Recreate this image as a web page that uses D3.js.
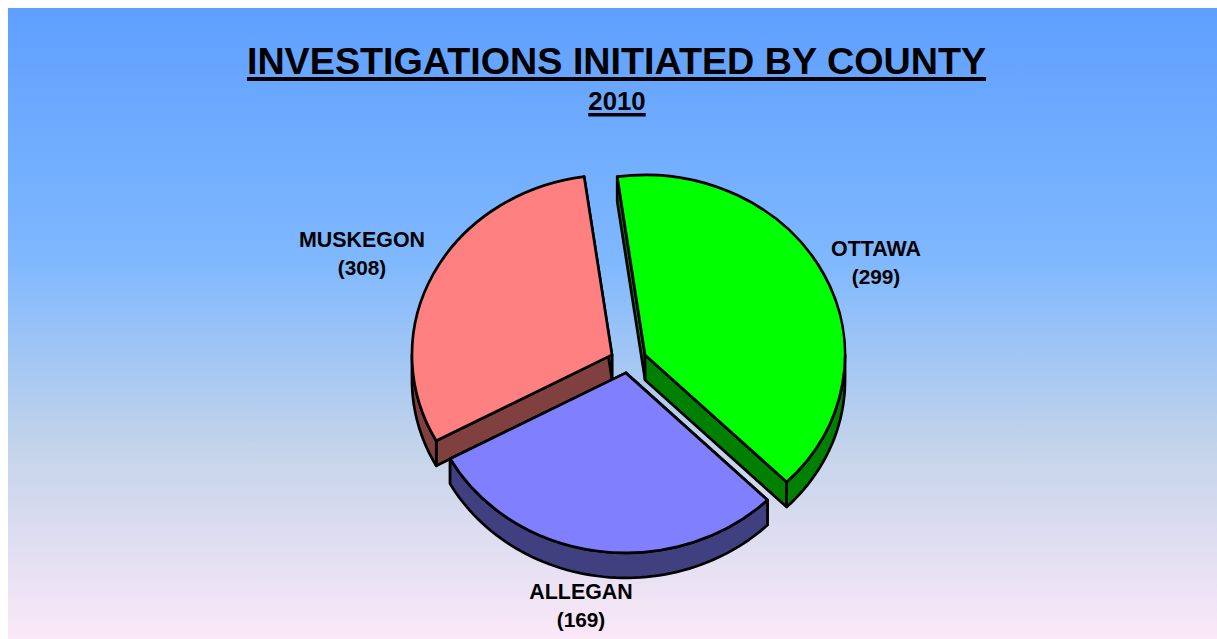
<!DOCTYPE html>
<html>
<head>
<meta charset="utf-8">
<script src="https://cdn.jsdelivr.net/npm/d3@7"></script>
<style>
html,body{margin:0;padding:0;background:#fff;}
svg{display:block;}
text{font-family:"Liberation Sans",Arial,sans-serif;font-weight:bold;fill:#000;}
</style>
</head>
<body>
<div id="chart"></div>
<script>
const counties = ['OTTAWA','ALLEGAN','MUSKEGON'];
const counts = [299,169,308];
// the printed counts don't match the wedge sizes in the picture, so the wedges use their own shares (percent)
const wedgeShares = [39.7,29.6,30.7];
const topColors = ['#00ff00','#8080ff','#ff8080'];
const sideColors = ['#008000','#404080','#804040'];

const width = 1217, height = 639;
const rx = 200, ry = 180, depth = 25;
const cx = 628.5, cy = 360.5;
const explodeX = 18.5, explodeY = 12.5;
const startDeg = -8;

const svg = d3.select('#chart').append('svg')
    .attr('width',width)
    .attr('height',height);

const grad = svg.append('defs').append('linearGradient')
    .attr('id','bg')
    .attr('x1',0).attr('y1',0).attr('x2',0).attr('y2',1);
grad.append('stop').attr('offset','0%').attr('stop-color','#5f9fff');
grad.append('stop').attr('offset','40%').attr('stop-color','#7fb8ff');
grad.append('stop').attr('offset','70%').attr('stop-color','#c4d4ea');
grad.append('stop').attr('offset','100%').attr('stop-color','#fbe8f8');

svg.append('rect')
    .attr('x',8).attr('y',8)
    .attr('width',width-8).attr('height',height-8)
    .attr('fill','url(#bg)');

const slices = counties.map((c,i)=>({county:c,count:counts[i],share:wedgeShares[i],top:topColors[i],side:sideColors[i]}));
const pie = d3.pie()
    .sort(null)
    .value(d=>d.share)
    .startAngle(startDeg*Math.PI/180)
    .endAngle((startDeg+360)*Math.PI/180);
const arcs = pie(slices);

// d3.arc angles: 0 is straight up, going clockwise
const px = (a)=>rx*Math.sin(a);
const py = (a)=>-ry*Math.cos(a);
const arcShape = d3.arc().innerRadius(0).outerRadius(rx);
const scaleY = ry/rx;

const lineWidth = 2.7;
const wedge = svg.append('g').attr('stroke','#000').attr('stroke-linejoin','round');

// back to front
for(const i of [0,2,1]){
    const d = arcs[i];
    const mid = (d.startAngle+d.endAngle)/2;
    const x0 = cx+explodeX*Math.sin(mid);
    const y0 = cy-explodeY*Math.cos(mid);
    const g = wedge.append('g').attr('transform',`translate(${x0},${y0})`);

    // the two cut faces
    for(const a of [d.startAngle,d.endAngle]){
        g.append('path')
            .attr('d',`M0,0L${px(a)},${py(a)}L${px(a)},${py(a)+depth}L0,${depth}Z`)
            .attr('fill',d.data.side)
            .attr('stroke-width',lineWidth);
    }

    // rim, only the part facing us (90deg to 270deg)
    const a0 = Math.max(d.startAngle,Math.PI/2);
    const a1 = Math.min(d.endAngle,Math.PI*1.5);
    if(a1>a0){
        const n = 60;
        const steps = d3.range(n+1).map(k=>a0+(a1-a0)*k/n);
        const front = steps.map(a=>[px(a),py(a)]);
        const back = steps.slice().reverse().map(a=>[px(a),py(a)+depth]);
        g.append('path')
            .attr('d',d3.line()(front.concat(back))+'Z')
            .attr('fill',d.data.side)
            .attr('stroke-width',lineWidth);
    }

    // top face
    g.append('path')
        .attr('d',arcShape(d))
        .attr('transform',`scale(1,${scaleY})`)
        .attr('vector-effect','non-scaling-stroke')
        .attr('fill',d.data.top)
        .attr('stroke-width',lineWidth);
}

// titles, underline drawn by hand because the browser's one is too thin
function underlined(str,x,y,size,gap,thick){
    const t = svg.append('text')
        .attr('x',x).attr('y',y)
        .attr('text-anchor','middle')
        .attr('font-size',size)
        .text(str);
    const w = t.node().getComputedTextLength();
    svg.append('rect')
        .attr('x',x-w/2).attr('y',y+gap)
        .attr('width',w).attr('height',thick)
        .attr('fill','#000');
}
underlined('INVESTIGATIONS INITIATED BY COUNTY',616.5,74,37.7,3,4);
underlined('2010',617,110,25.8,3,3.5);

const labelPos = {OTTAWA:[876,256],ALLEGAN:[581,599],MUSKEGON:[362,247]};
for(const s of slices){
    const [lx,ly] = labelPos[s.county];
    const t = svg.append('text')
        .attr('x',lx).attr('y',ly)
        .attr('text-anchor','middle');
    t.append('tspan').attr('x',lx).attr('font-size',21.4).text(s.county);
    t.append('tspan').attr('x',lx).attr('dy',28).attr('font-size',20.8).text(`(${s.count})`);
}
</script>
</body>
</html>
